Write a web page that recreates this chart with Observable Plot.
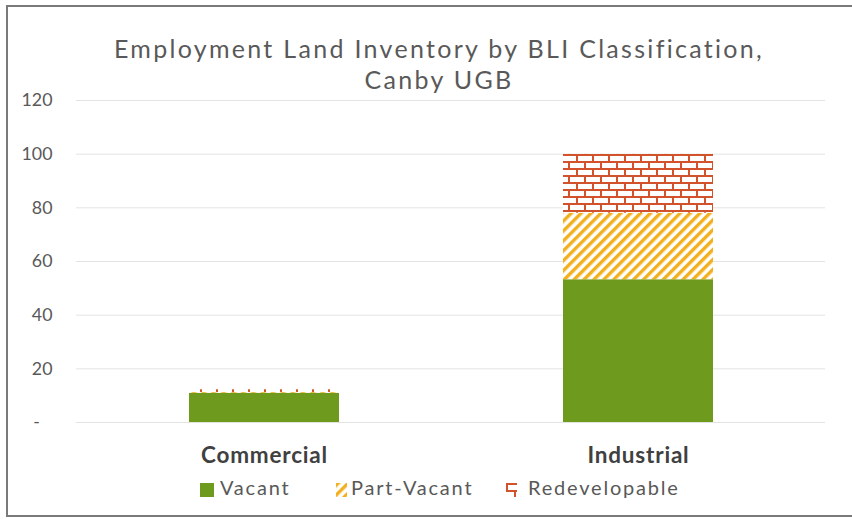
<!DOCTYPE html>
<html>
<head>
<meta charset="utf-8">
<script src="https://cdn.jsdelivr.net/npm/d3@7"></script>
<script src="https://cdn.jsdelivr.net/npm/@observablehq/plot@0.6"></script>
<style>
  html, body { margin: 0; padding: 0; background: #fff; }
  #wrap { position: relative; width: 852px; height: 523px; overflow: hidden; font-family: Lato, "Open Sans", sans-serif; }
  #frame { position: absolute; left: 6px; top: 5px; width: 900px; height: 512px; border: 2px solid #7a7a7a; box-sizing: border-box; }
  #title { position: absolute; left: 0; width: 878px; top: 33px; text-align: center; font-size: 25px; line-height: 31px; letter-spacing: 2.3px; color: #595959; z-index: 2; }
  #chart { position: absolute; left: 0; top: 0; }
  #chart g[aria-label="x-axis tick label"] text { letter-spacing: 0.8px; }
  .lg { position: absolute; top: 477px; font-size: 20px; line-height: 20px; letter-spacing: 1.8px; color: #595959; white-space: nowrap; }
  .sw { position: absolute; top: 481px; }
</style>
</head>
<body>
<svg width="0" height="0" style="position:absolute">
  <defs>
    <pattern id="pv" patternUnits="userSpaceOnUse" width="7" height="7" patternTransform="rotate(45)">
      <rect width="7" height="7" fill="#ffffff"></rect>
      <rect x="0" width="3.4" height="7" fill="#f2b01e"></rect>
    </pattern>
    <pattern id="rd" patternUnits="userSpaceOnUse" width="16" height="14">
      <rect width="16" height="14" fill="#ffffff"></rect>
      <path d="M0 1H16M0 8H16M1 1V8M9 8V15" stroke="#d2532b" stroke-width="2" fill="none"></path>
    </pattern>
  </defs>
</svg>
<div id="wrap">
  <div id="frame"></div>
  <div id="chart"></div>
  <div id="title">Employment Land Inventory by BLI Classification,<br>Canby UGB</div>
</div>
<script>
const categories = ["Commercial", "Industrial"];
const seriesNames = ["Vacant", "Part-Vacant", "Redevelopable"];
const vacant = [10.9, 53.2];
const partVacant = [0.3, 24.8];
const redevelopable = [1.0, 21.9];
const yTicks = [0, 20, 40, 60, 80, 100, 120];
const seriesFills = ["#6e9a1e", "url(#pv)", "url(#rd)"];

const seriesValues = [vacant, partVacant, redevelopable];
const rows = [];
seriesNames.forEach((s, i) => {
  categories.forEach((c, j) => rows.push({category: c, series: s, value: seriesValues[i][j]}));
});

const chart = Plot.plot({
  width: 852,
  height: 470,
  marginTop: 100,
  marginBottom: 48,
  marginLeft: 76,
  marginRight: 27,
  style: {fontFamily: "Lato, 'Open Sans', sans-serif", background: "transparent"},
  x: {domain: categories, paddingInner: 0.6, paddingOuter: 0.3, label: null},
  y: {domain: [0, 120], label: null},
  color: {domain: seriesNames, range: seriesFills},
  marks: [
    Plot.gridY(yTicks, {stroke: "#e3e3e3", strokeOpacity: 1, strokeWidth: 1}),
    Plot.barY(rows, Plot.stackY({x: "category", y: "value", fill: "series"})),
    Plot.axisY(yTicks, {
      tickSize: 0, tickPadding: 24, fontSize: 17.8, fill: "#595959", label: null,
      tickFormat: d => d === 0 ? "-\u2007\u2009" : String(d)
    }),
    Plot.axisX({tickSize: 0, tickPadding: 25, fontSize: 22.5, fontWeight: "bold", fill: "#404040", label: null})
  ]
});
document.getElementById("chart").appendChild(chart);

const wrap = document.getElementById("wrap");
const swatches = [
  '<svg width="14" height="14"><rect width="14" height="14" fill="#6e9a1e"/></svg>',
  '<svg width="11" height="14"><rect width="11" height="14" fill="url(#pv)"/></svg>',
  '<svg width="11" height="14"><rect width="11" height="14" fill="url(#rd)"/></svg>'
];
const swatchLeft = [200, 336, 506];
const textLeft = [220, 351, 528];
seriesNames.forEach((s, i) => {
  const sw = document.createElement("div");
  sw.className = "sw";
  sw.style.left = swatchLeft[i] + "px";
  sw.innerHTML = swatches[i];
  wrap.appendChild(sw);
  const t = document.createElement("div");
  t.className = "lg";
  t.style.left = textLeft[i] + "px";
  t.textContent = s;
  wrap.appendChild(t);
});
</script>
</body>
</html>
